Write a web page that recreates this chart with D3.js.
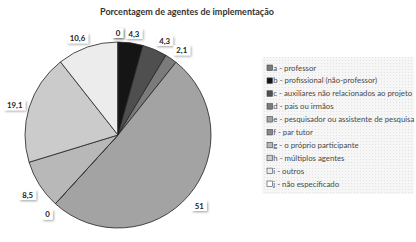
<!DOCTYPE html>
<html>
<head>
<meta charset="utf-8">
<script src="https://cdn.jsdelivr.net/npm/d3@7"></script>
<style>
  body { margin: 0; background: #fff; }
  svg { display: block; font-family: Lato, "Open Sans", sans-serif; }
</style>
</head>
<body>
<svg id="chart" width="416" height="242"></svg>
<script>
// data
const categories = [
  'a - professor',
  'b - profissional (não-professor)',
  'c - auxiliares não relacionados ao projeto',
  'd - pais ou irmãos',
  'e - pesquisador ou assistente de pesquisa',
  'f - par tutor',
  'g - o próprio participante',
  'h - múltiplos agentes',
  'i - outros',
  'j - não especificado'
];
const values = [0, 4.3, 4.3, 2.1, 51, 0, 8.5, 19.1, 10.6, 0];
const valueLabels = ['0', '4,3', '4,3', '2,1', '51', '0', '8,5', '19,1', '10,6', '0'];
const sliceColors = ['#7a7a7a', '#151515', '#4f4f4f', '#7b7b7b', '#a3a3a3',
                     '#8a8a8a', '#b8b8b8', '#cbcbcb', '#ececec', '#ffffff'];

const svg = d3.select('#chart');
const cx = 118, cy = 135, r = 93;

svg.append('text')
  .attr('x', 187).attr('y', 15)
  .attr('text-anchor', 'middle')
  .attr('font-size', 9).attr('font-weight', 'bold')
  .attr('fill', '#333')
  .text('Porcentagem de agentes de implementação');

const defs = svg.append('defs');
const pat = defs.append('pattern')
  .attr('id', 'dots').attr('width', 3).attr('height', 3)
  .attr('patternUnits', 'userSpaceOnUse');
pat.append('rect').attr('width', 3).attr('height', 3).attr('fill', '#f6f6f6');
pat.append('rect').attr('width', 1).attr('height', 1).attr('fill', '#e2e2e2');

const shadow = defs.append('filter').attr('id', 'shadow')
  .attr('x', '-30%').attr('y', '-30%').attr('width', '160%').attr('height', '160%');
shadow.append('feDropShadow')
  .attr('dx', 1.2).attr('dy', 1.2).attr('stdDeviation', 0.8)
  .attr('flood-color', '#000').attr('flood-opacity', 0.35);

// pie
const pie = d3.pie().sort(null).value(d => d)(values);
const arc = d3.arc().innerRadius(0).outerRadius(r);

const g = svg.append('g').attr('transform', `translate(${cx},${cy})`);
g.selectAll('path.slice')
  .data(pie)
  .enter().append('path')
  .attr('class', 'slice')
  .attr('d', arc)
  .attr('fill', (d, i) => sliceColors[i])
  .attr('stroke', '#222')
  .attr('stroke-width', 0.8);

// labels at outside end, boxes pushed outward
const labelG = g.selectAll('g.lab')
  .data(pie)
  .enter().append('g')
  .attr('class', 'lab');

labelG.each(function(d, i) {
  const sel = d3.select(this);
  const t = sel.append('text')
    .attr('font-size', 7.8).attr('font-weight', 'bold')
    .attr('fill', '#222')
    .attr('text-anchor', 'middle')
    .attr('dy', '0.35em')
    .text(valueLabels[i]);
  const w = t.node().getComputedTextLength() + 6, h = 10;
  const a = (d.startAngle + d.endAngle) / 2;
  const s = Math.sin(a), c = Math.cos(a);
  const R = r + 4;
  const kx = Math.max(-1, Math.min(1, s * 2.5));
  const ky = Math.max(-1, Math.min(1, c * 2.5));
  const x = R * s + kx * w / 2;
  const y = -R * c - ky * h / 2 + (c < 0.5 ? 3 : 0);
  sel.attr('transform', `translate(${x},${y})`);
  sel.insert('rect', 'text')
    .attr('x', -w / 2).attr('y', -h / 2)
    .attr('width', w).attr('height', h)
    .attr('fill', '#fff')
    .attr('filter', 'url(#shadow)');
});

// legend
const lx = 262, ly = 57;
svg.append('rect')
  .attr('x', lx).attr('y', ly)
  .attr('width', 152).attr('height', 137)
  .attr('fill', 'url(#dots)');

const ys = d3.scalePoint().domain(categories).range([68, 184]);
const leg = svg.selectAll('g.leg')
  .data(categories)
  .enter().append('g')
  .attr('class', 'leg')
  .attr('transform', d => `translate(267,${ys(d)})`);

leg.append('rect')
  .attr('x', 0).attr('y', -3)
  .attr('width', 5.5).attr('height', 5.5)
  .attr('fill', (d, i) => sliceColors[i])
  .attr('stroke', '#444').attr('stroke-width', 0.6);

leg.append('text')
  .attr('x', 6.3).attr('dy', '0.32em')
  .attr('font-size', 7.8)
  .attr('fill', '#4a4a4a')
  .text(d => d);
</script>
</body>
</html>
